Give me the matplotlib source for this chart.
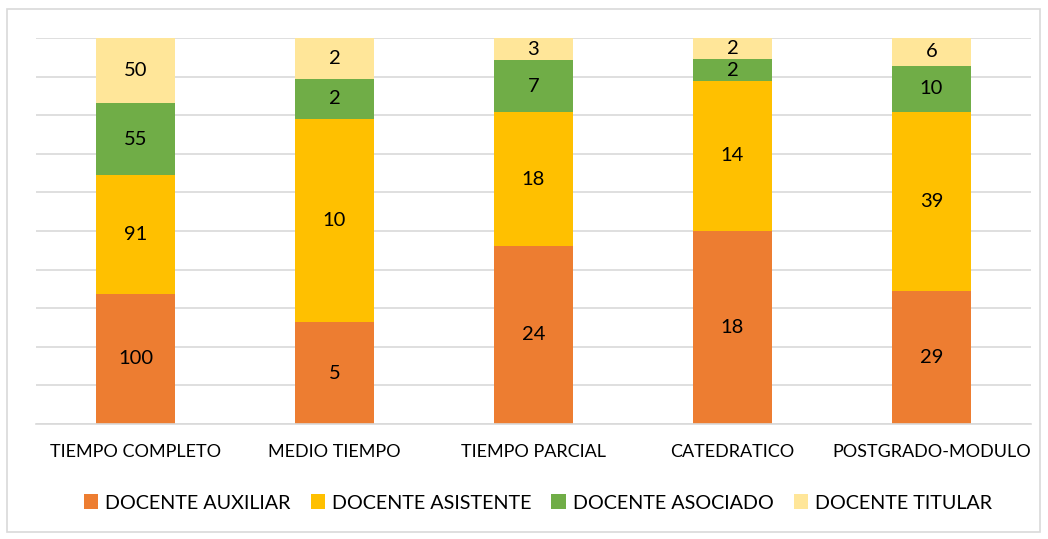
import matplotlib.pyplot as plt
from matplotlib.patches import Rectangle
import numpy as np

plt.rcParams['font.family'] = ['Lato', 'DejaVu Sans']

categorias = ['TIEMPO COMPLETO', 'MEDIO TIEMPO', 'TIEMPO PARCIAL',
              'CATEDRATICO', 'POSTGRADO-MODULO']
series = ['DOCENTE AUXILIAR', 'DOCENTE ASISTENTE', 'DOCENTE ASOCIADO',
          'DOCENTE TITULAR']
auxiliar = [100, 5, 24, 18, 29]
asistente = [91, 10, 18, 14, 39]
asociado = [55, 2, 7, 2, 10]
titular = [50, 2, 3, 2, 6]
colores = ['#ED7D31', '#FFC000', '#70AD47', '#FFE699']

datos = np.array([auxiliar, asistente, asociado, titular], dtype=float)
totales = datos.sum(axis=0)
pct = datos / totales * 100

fig = plt.figure(figsize=(10.48, 5.39), dpi=100)
ax = fig.add_axes([36 / 1048, (539 - 424) / 539, (1031 - 36) / 1048, 386 / 539])

x = np.arange(len(categorias))
base = np.zeros(len(categorias))
for i, nombre in enumerate(series):
    ax.bar(x, pct[i], 0.4, bottom=base, color=colores[i], label=nombre, zorder=2)
    for j in range(len(categorias)):
        ax.text(x[j], base[j] + pct[i][j] / 2, f'{int(datos[i][j])}',
                ha='center', va='center', fontsize=14.5, color='black', zorder=3)
    base += pct[i]

ax.set_xlim(-0.5, len(categorias) - 0.5)
ax.set_ylim(0, 100)
ax.set_yticks(np.arange(0, 101, 10))
ax.yaxis.grid(True, color='#D9D9D9', linewidth=1.2, zorder=0)
ax.tick_params(axis='y', left=False, labelleft=False)
ax.tick_params(axis='x', bottom=False, labelsize=13, pad=11)
ax.set_xticks(x)
ax.set_xticklabels(categorias)
for s in ['top', 'right', 'left']:
    ax.spines[s].set_visible(False)
ax.spines['bottom'].set_color('#D9D9D9')
ax.spines['bottom'].set_linewidth(1.2)

fig.legend(loc='center', bbox_to_anchor=(538 / 1048, 1 - 503 / 539), ncol=4,
           frameon=False, fontsize=14.2, handlelength=0.75, handleheight=0.75,
           handletextpad=0.35, columnspacing=1.0)

fig.patches.append(Rectangle((7 / 1048, 1 - 532 / 539), 1033 / 1048, 523 / 539,
                             transform=fig.transFigure, fill=False,
                             edgecolor='#D9D9D9', linewidth=1.2))

fig.savefig('out.png', dpi=100)
